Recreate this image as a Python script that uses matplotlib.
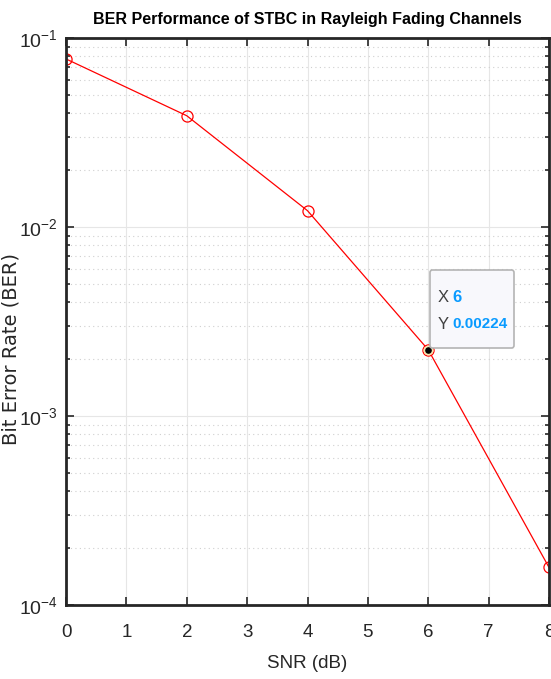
import matplotlib
matplotlib.use("Agg")
import matplotlib.pyplot as plt
from matplotlib.ticker import LogLocator, NullFormatter, FixedLocator
from matplotlib.patches import FancyBboxPatch

plt.rcParams["mathtext.fontset"] = "custom"
plt.rcParams["mathtext.rm"] = "Liberation Sans"
plt.rcParams["mathtext.it"] = "Liberation Sans"
plt.rcParams["mathtext.bf"] = "Liberation Sans:bold"
plt.rcParams["font.family"] = ["Liberation Sans", "DejaVu Sans"]

snr = [0, 2, 4, 6, 8]
ber = [0.0775, 0.0388, 0.0122, 0.00224, 0.000158]
x_ticks = [0, 1, 2, 3, 4, 5, 6, 7, 8]
tip_x, tip_y = 6, 0.00224

fig = plt.figure(figsize=(5.51, 6.79), dpi=100)
ax = fig.add_axes([0.1198, 0.109, 0.8766, 0.835])

ax.semilogy(snr, ber, color="red", lw=0.9, marker="o", ms=8, mfc="none", mec="red", mew=0.9)
ax.set_xlim(0, 8)
ax.set_ylim(1e-4, 1e-1)
ax.xaxis.set_major_locator(FixedLocator(x_ticks))
ax.yaxis.set_major_locator(LogLocator(base=10, numticks=10))
ax.yaxis.set_minor_locator(LogLocator(base=10, subs=range(2, 10), numticks=10))
ax.yaxis.set_minor_formatter(NullFormatter())

ax.grid(True, which="major", color="#e6e6e6", lw=0.8, ls="-")
ax.grid(True, which="minor", axis="y", color="#cfcfcf", lw=0.8, ls=(0, (1, 3)))
ax.set_axisbelow(True)

ax.tick_params(which="both", direction="in", top=True, right=True, width=1.2, colors="#262626")
ax.tick_params(axis="x", which="major", length=6, labelsize=13.5, pad=14)
ax.tick_params(axis="y", which="major", length=6, labelsize=14, pad=6)
ax.tick_params(which="minor", length=3)
for s in ax.spines.values():
    s.set_linewidth(2.0)
    s.set_color("#262626")

ax.set_title("BER Performance of STBC in Rayleigh Fading Channels", fontsize=11.5,
             fontweight="bold", pad=10)
ax.set_xlabel("SNR (dB)", fontsize=13.5, color="#262626", labelpad=10)
ax.set_ylabel("Bit Error Rate (BER)", fontsize=14, color="#262626", family="DejaVu Sans")
ax.yaxis.set_label_coords(-0.094, 0.451)

# data tip
ax.plot([tip_x], [tip_y], marker="o", ms=6, color="black", mec="#f5e6b0", mew=1.2, zorder=5)
bx0, by0, bw, bh = 430/551, 1 - 348/679, 84/551, 78/679
box = FancyBboxPatch((bx0, by0), bw, bh, boxstyle="round,pad=0,rounding_size=0.004",
                     transform=fig.transFigure, fc="#f8f8fc", ec="#b4b4b4", lw=1.2, zorder=10)
fig.patches.append(box)
fig.text(438/551, 1 - 297/679, "X", fontsize=12, color="#404040", va="center", zorder=11)
fig.text(452/551, 1 - 297/679, f"{tip_x}", fontsize=12, color="#0a9bff", fontweight="bold", va="center", zorder=11)
fig.text(438/551, 1 - 324/679, "Y", fontsize=12, color="#404040", va="center", zorder=11)
fig.text(452/551, 1 - 324/679, f"{tip_y}", fontsize=11, color="#0a9bff", fontweight="bold", va="center", zorder=11)

fig.savefig("out.png", dpi=100)
